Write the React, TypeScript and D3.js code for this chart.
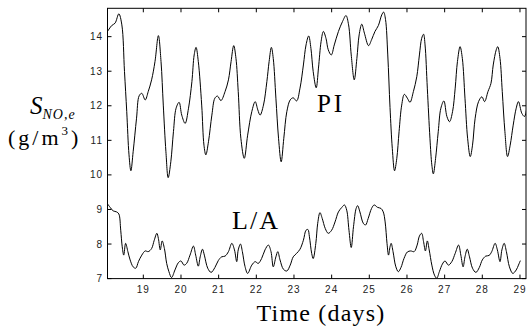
import React from "react";
import * as d3 from "d3";

const piDays = [18.05,18.16,18.25,18.35,18.43,18.5,18.56,18.62,18.67,18.73,18.82,18.89,18.96,19.05,19.13,19.22,19.31,19.4,19.47,19.53,19.6,19.66,19.73,19.8,19.87,19.95,20.02,20.11,20.2,20.29,20.35,20.4,20.46,20.55,20.61,20.66,20.73,20.82,20.9,20.97,21.06,21.17,21.26,21.33,21.4,21.46,21.52,21.59,21.68,21.77,21.88,21.97,22.04,22.1,22.19,22.28,22.34,22.4,22.45,22.52,22.59,22.66,22.73,22.81,22.9,22.98,23.07,23.16,23.25,23.32,23.39,23.45,23.51,23.59,23.65,23.72,23.78,23.85,23.91,23.99,24.07,24.18,24.29,24.38,24.45,24.52,24.6,24.67,24.73,24.8,24.87,24.98,25.06,25.15,25.24,25.33,25.38,25.43,25.49,25.55,25.61,25.67,25.73,25.79,25.86,25.93,26.01,26.08,26.17,26.26,26.33,26.39,26.44,26.48,26.54,26.61,26.66,26.7,26.76,26.83,26.9,26.98,27.06,27.13,27.21,27.28,27.34,27.41,27.47,27.54,27.61,27.68,27.74,27.81,27.9,27.99,28.06,28.15,28.23,28.29,28.37,28.41,28.47,28.53,28.6,28.67,28.74,28.82,28.9,28.96,29.05,29.12,29.18];
const piValues = [14.15,14.32,14.39,14.66,14.34,12.99,11.83,10.58,10.12,10.67,11.64,12.29,12.36,12.17,12.41,12.75,13.28,14.03,13.28,12.02,10.67,9.92,10.38,11.25,11.93,12.1,11.73,11.49,11.93,12.7,13.47,13.69,13.28,12.02,10.86,10.58,10.96,11.73,12.22,12.28,12.15,12.41,12.75,13.28,13.74,13.37,12.41,11.06,10.48,11.15,11.83,12.12,11.88,11.73,12.02,12.7,13.28,13.69,13.37,12.22,11.06,10.38,11.06,11.83,12.17,12.23,12.14,12.51,13.18,13.76,14.02,13.66,12.99,12.52,13.09,13.86,14.15,13.95,13.62,13.47,13.76,14.15,14.44,14.61,14.34,13.47,12.75,13.37,14.05,14.36,14.1,13.74,13.91,14.15,14.32,14.63,14.71,14.5,13.47,11.95,10.77,10.12,10.48,11.25,12.02,12.33,12.22,12.1,12.41,12.84,13.47,13.95,14.07,13.76,12.51,11.06,10.29,10.03,10.48,11.25,11.93,12.14,11.69,11.54,11.83,12.51,13.28,13.71,13.37,12.22,11.06,10.53,10.86,11.64,12.12,12.26,12.12,12.41,12.65,13.18,13.62,13.71,13.37,12.41,11.25,10.53,10.86,11.44,11.93,12.12,11.78,11.69,11.93];

const laDays = [18.05,18.12,18.2,18.29,18.35,18.4,18.44,18.48,18.53,18.59,18.65,18.73,18.8,18.87,18.96,19.05,19.13,19.22,19.29,19.36,19.4,19.45,19.5,19.56,19.62,19.68,19.75,19.84,19.93,20.0,20.08,20.15,20.24,20.33,20.39,20.46,20.51,20.57,20.62,20.71,20.8,20.9,20.99,21.08,21.17,21.26,21.35,21.42,21.48,21.52,21.58,21.63,21.7,21.77,21.88,21.97,22.05,22.14,22.23,22.32,22.39,22.45,22.52,22.57,22.63,22.72,22.81,22.9,22.98,23.07,23.16,23.25,23.32,23.37,23.41,23.47,23.51,23.58,23.63,23.69,23.75,23.83,23.91,24.0,24.09,24.18,24.27,24.34,24.4,24.46,24.52,24.58,24.65,24.69,24.75,24.84,24.9,24.97,25.06,25.13,25.22,25.31,25.37,25.42,25.47,25.51,25.55,25.58,25.63,25.7,25.77,25.84,25.92,26.01,26.1,26.19,26.27,26.33,26.39,26.44,26.49,26.54,26.59,26.66,26.73,26.79,26.86,26.94,27.01,27.1,27.19,27.28,27.37,27.43,27.49,27.54,27.6,27.66,27.74,27.83,27.92,28.0,28.09,28.18,28.25,28.34,28.4,28.47,28.52,28.58,28.64,28.72,28.81,28.9,28.96,29.01];
const laValues = [9.16,9.06,8.96,8.93,8.87,8.4,7.92,7.68,8.02,7.78,7.54,7.34,7.3,7.49,7.68,7.8,7.78,7.87,8.11,8.31,8.16,7.83,8.09,7.87,7.44,7.2,7.03,7.25,7.46,7.51,7.39,7.44,7.68,7.94,7.68,7.36,7.63,7.85,7.68,7.3,7.18,7.32,7.52,7.63,7.65,7.78,8.02,7.83,7.49,7.83,8.0,7.78,7.35,7.15,7.39,7.49,7.44,7.58,7.83,7.97,7.78,7.34,7.63,7.78,7.54,7.27,7.22,7.39,7.63,7.73,7.85,8.11,8.4,8.42,8.21,7.73,7.58,8.02,8.6,8.91,8.74,8.45,8.31,8.4,8.64,8.93,9.06,9.13,8.98,8.4,7.9,8.5,9.03,9.11,8.93,8.6,8.55,8.74,9.03,9.13,9.06,9.03,8.93,8.64,8.02,7.68,7.92,8.02,7.78,7.36,7.2,7.32,7.58,7.77,7.8,7.78,7.97,8.23,8.31,8.07,7.8,8.09,7.83,7.39,7.1,7.01,7.2,7.42,7.51,7.39,7.49,7.73,7.97,7.68,7.34,7.63,7.85,7.63,7.3,7.18,7.32,7.54,7.65,7.67,7.78,8.02,7.83,7.49,7.83,8.02,7.78,7.34,7.15,7.25,7.39,7.52];

const xTicks = [19, 20, 21, 22, 23, 24, 25, 26, 27, 28, 29];
const yTicks = [7, 8, 9, 10, 11, 12, 13, 14];

export default function App() {
  const L = 107.5, R = 526, T = 8.3, B = 278.6;
  const x = d3.scaleLinear().domain([18.049, 29.16]).range([L, R]);
  const y = d3.scaleLinear().domain([7, 14.82]).range([B, T]);
  const line = d3
    .line<[number, number]>()
    .x((d) => x(d[0]))
    .y((d) => y(d[1]))
    .curve(d3.curveCatmullRom.alpha(0.5));
  const pi = piDays.map((d, i) => [d, piValues[i]] as [number, number]);
  const la = laDays.map((d, i) => [d, laValues[i]] as [number, number]);
  const tl = 4;
  const tickFont = "'Liberation Sans', Arial, sans-serif";
  const serif = "'Liberation Serif', 'Times New Roman', serif";
  return (
    <svg
      width={527}
      height={329}
      style={{ position: "absolute", left: 0, top: 0, background: "#fff" }}
    >
      <defs>
        <clipPath id="plotclip">
          <rect x={L} y={T} width={R - L} height={B - T} />
        </clipPath>
      </defs>
      <rect x={0} y={0} width={527} height={329} fill="#fff" />
      <g clipPath="url(#plotclip)" fill="none" stroke="#000" strokeWidth={1}>
        <path d={line(pi) || ""} />
        <path d={line(la) || ""} />
      </g>
      <rect x={L} y={T} width={R - L} height={B - T} fill="none" stroke="#000" strokeWidth={1} />
      <g stroke="#000" strokeWidth={1}>
        {xTicks.map((t) => (
          <g key={"xt" + t}>
            <line x1={x(t)} x2={x(t)} y1={B} y2={B - tl} />
            <line x1={x(t)} x2={x(t)} y1={T} y2={T + tl} />
          </g>
        ))}
        {yTicks.map((t) => (
          <g key={"yt" + t}>
            <line x1={L} x2={L + tl} y1={y(t)} y2={y(t)} />
            <line x1={R} x2={R - tl} y1={y(t)} y2={y(t)} />
          </g>
        ))}
      </g>
      <g fontFamily={tickFont} fontSize={10} fill="#222">
        {xTicks.map((t) => (
          <text key={"xl" + t} x={x(t)} y={293} textAnchor="middle" letterSpacing={1}>
            {t}
          </text>
        ))}
        {yTicks.map((t) => (
          <text key={"yl" + t} x={103} y={y(t) + 3.5} textAnchor="end" letterSpacing={1}>
            {t}
          </text>
        ))}
      </g>
      <g fontFamily={serif} fill="#000">
        <text x={331} y={112} fontSize={25} textAnchor="middle" letterSpacing={3}>
          PI
        </text>
        <text x={256} y={229} fontSize={26} textAnchor="middle" letterSpacing={2}>
          L/A
        </text>
        <text x={321} y={321} fontSize={24} textAnchor="middle" letterSpacing={1.2}>
          Time (days)
        </text>
        <text x={30} y={114} fontSize={25} fontStyle="italic">
          S
          <tspan fontSize={14} dy={5} letterSpacing={1}>NO,e</tspan>
        </text>
        <text x={8} y={145} fontSize={22} letterSpacing={3}>
          (g/m
          <tspan fontSize={13} dy={-10}>3</tspan>
          <tspan dy={10}>)</tspan>
        </text>
      </g>
    </svg>
  );
}
